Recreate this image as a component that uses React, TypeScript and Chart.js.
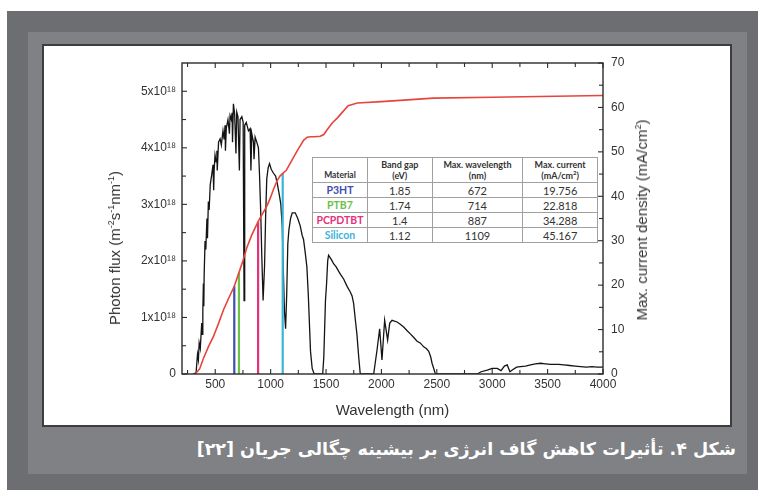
import React, { useEffect, useRef } from "react";
import { Chart, registerables } from "chart.js";

Chart.register(...registerables);

// ---------- data ----------
// AM1.5 photon flux, in units of 1e18 m^-2 s^-1 nm^-1
const SPECTRUM_WAVELENGTH = [
  300, 327, 340, 348, 355, 365, 378, 383, 388, 393,
  397, 400, 408, 415, 425, 430, 438, 445, 455, 468,
  480, 486, 490, 498, 508, 515, 518, 530, 544, 555,
  570, 580, 589, 592, 600, 615, 628, 634, 645, 652,
  656, 664, 675, 687, 694, 705, 718, 724, 740, 752,
  760, 766, 780, 800, 815, 822, 830, 845, 850, 860,
  875, 890, 900, 910, 920, 932, 945, 955, 965, 978,
  990, 1005, 1026, 1045, 1062, 1080, 1092, 1105, 1115, 1125,
  1135, 1145, 1155, 1165, 1180, 1195, 1222, 1245, 1267, 1285,
  1297, 1312, 1327, 1340, 1350, 1360, 1375, 1393, 1470, 1480,
  1495, 1505, 1515, 1523, 1540, 1555, 1568, 1590, 1613, 1635,
  1659, 1690, 1719, 1735, 1749, 1765, 1779, 1795, 1809, 1930,
  1960, 1984, 2005, 2029, 2056, 2075, 2096, 2141, 2170, 2201,
  2230, 2261, 2290, 2322, 2350, 2382, 2405, 2427, 2445, 2457,
  2475, 2487, 2864, 2900, 2955, 3000, 3045, 3080, 3110, 3135,
  3160, 3181, 3220, 3256, 3300, 3346, 3390, 3437, 3480, 3527,
  3600, 3648, 3700, 3750, 3799, 3850, 3900, 3949, 4000,
];
const SPECTRUM_FLUX = [
  0, 0.02, 0.35, 0.25, 0.55, 0.45, 0.9, 0.7, 1.1, 1.6,
  1.2, 1.75, 2.35, 2.2, 2.75, 2.4, 3.05, 2.9, 3.35, 3.52,
  3.7, 3.25, 3.6, 3.87, 3.75, 3.95, 3.6, 4.1, 4.16, 4.05,
  4.3, 4.15, 4.4, 3.95, 4.35, 4.5, 4.25, 4.57, 4.5, 4.62,
  4.1, 4.78, 4.6, 3.9, 4.63, 4.55, 3.6, 4.5, 4.55, 4.45,
  1.3, 4.4, 4.45, 4.3, 4.34, 3.6, 4.25, 4.1, 3.8, 4.19,
  4.1, 4.0, 3.5, 2.9, 2.1, 1.3, 1.9, 2.8, 3.45, 3.65,
  3.72, 3.62, 3.55, 3.5, 3.35, 3.15, 3.0, 2.6, 1.8, 1.1,
  0.8, 1.4, 2.3, 2.55, 2.75, 2.85, 2.85, 2.75, 2.62, 2.45,
  2.38, 2.15, 1.9, 1.4, 0.9, 0.4, 0.1, 0, 0, 0.3,
  1.3, 1.6, 2.0, 2.1, 2.05, 2.0, 1.95, 1.9, 1.82, 1.75,
  1.68, 1.55, 1.45, 1.38, 1.25, 0.95, 0.7, 0.3, 0, 0,
  0.42, 0.8, 0.25, 0.95, 0.6, 0.9, 0.95, 0.92, 0.88, 0.83,
  0.77, 0.71, 0.65, 0.58, 0.55, 0.48, 0.45, 0.4, 0.3, 0.19,
  0.08, 0, 0, 0.04, 0.07, 0.1, 0.1, 0.06, 0.14, 0.16,
  0.04, 0.07, 0.12, 0.13, 0.14, 0.16, 0.18, 0.19, 0.18, 0.17,
  0.17, 0.16, 0.15, 0.14, 0.13, 0.12, 0.13, 0.12, 0.12,
];

// cumulative maximum current density, mA/cm^2
const CURRENT_WAVELENGTH = [
  320, 360, 393, 440, 483, 530, 574, 620, 672, 714, 750, 785, 830, 887, 930, 966, 1000, 1026, 1060, 1086,
  1109, 1140, 1176, 1237, 1297, 1330, 1360, 1400, 1448, 1480, 1508, 1560, 1601, 1650, 1700, 1782, 2000, 2470, 3000, 4000,
];
const CURRENT_DENSITY = [
  0, 1.2, 3.5, 6.2, 8.4, 11.4, 14.4, 17.0, 19.756, 22.818, 25.5, 28.4, 31.3, 34.288, 36.2, 37.8, 39.8, 41.6, 43.6, 44.6,
  45.167, 45.8, 47.4, 50.1, 52.6, 53.3, 53.4, 53.4, 53.5, 53.9, 54.9, 56.6, 57.6, 59.0, 60.4, 61.0, 61.3, 62.1, 62.3, 62.7,
];

const MATERIALS = ["P3HT", "PTB7", "PCPDTBT", "Silicon"];
const BAND_GAPS = ["1.85", "1.74", "1.4", "1.12"];
const MAX_WAVELENGTHS = [672, 714, 887, 1109];
const MAX_CURRENTS = [19.756, 22.818, 34.288, 45.167];

const X_TICKS = [500, 1000, 1500, 2000, 2500, 3000, 3500, 4000];
const X_MINOR_TICKS = [250, 750, 1250, 1750, 2250, 2750, 3250, 3750];
const FLUX_TICKS = [0, 1, 2, 3, 4, 5];
const FLUX_MINOR_TICKS = [0.5, 1.5, 2.5, 3.5, 4.5];
const CURRENT_TICKS = [0, 10, 20, 30, 40, 50, 60, 70];
const CURRENT_MINOR_TICKS = [5, 15, 25, 35, 45, 55, 65];

const CAPTION = "شکل ۴. تأثیرات کاهش گاف انرژی بر بیشینه چگالی جریان [۲۲]";

// ---------- styles ----------
const MATERIAL_COLORS = ["#3f4db0", "#6cc04a", "#e6317b", "#3cb2da"];
const AXIS_FONT = "'Liberation Sans', Arial, sans-serif";
const TEXT_COLOR = "#333";

const framePlugin = {
  id: "frameTicks",
  afterDatasetsDraw(chart: any) {
    const { ctx, chartArea: a, scales } = chart;
    ctx.save();
    ctx.strokeStyle = "#2b2b2b";
    ctx.lineWidth = 1.4;
    ctx.strokeRect(a.left, a.top, a.right - a.left, a.bottom - a.top);
    ctx.lineWidth = 1.1;
    const seg = (x1: number, y1: number, x2: number, y2: number) => {
      ctx.beginPath();
      ctx.moveTo(x1, y1);
      ctx.lineTo(x2, y2);
      ctx.stroke();
    };
    const xt = (vals: number[], len: number) =>
      vals.forEach((v) => {
        const x = scales.x.getPixelForValue(v);
        seg(x, a.bottom, x, a.bottom - len);
        seg(x, a.top, x, a.top + len);
      });
    xt(X_TICKS, 5);
    xt(X_MINOR_TICKS, 4);
    const yl = (vals: number[], len: number) =>
      vals.forEach((v) => {
        const y = scales.yFlux.getPixelForValue(v);
        seg(a.left, y, a.left + len, y);
      });
    yl(FLUX_TICKS, 5);
    yl(FLUX_MINOR_TICKS, 4);
    const yr = (vals: number[], len: number) =>
      vals.forEach((v) => {
        const y = scales.yCurrent.getPixelForValue(v);
        seg(a.right, y, a.right - len, y);
      });
    yr(CURRENT_TICKS, 5);
    yr(CURRENT_MINOR_TICKS, 4);
    ctx.restore();
  },
};

function SpectrumChart() {
  const ref = useRef<HTMLCanvasElement | null>(null);
  useEffect(() => {
    if (!ref.current) return;
    const verticals = MATERIALS.map((m, i) => ({
      label: m,
      data: [
        { x: MAX_WAVELENGTHS[i], y: 0 },
        { x: MAX_WAVELENGTHS[i], y: MAX_CURRENTS[i] },
      ],
      yAxisID: "yCurrent",
      borderColor: MATERIAL_COLORS[i],
      borderWidth: 2.2,
      pointRadius: 0,
      order: 1,
    }));
    const chart = new Chart(ref.current, {
      type: "line",
      data: {
        datasets: [
          ...verticals,
          {
            label: "Max. current density",
            data: CURRENT_WAVELENGTH.map((x, i) => ({ x, y: CURRENT_DENSITY[i] })),
            yAxisID: "yCurrent",
            borderColor: "#e8443c",
            borderWidth: 1.6,
            pointRadius: 0,
            order: 0,
          },
          {
            label: "Photon flux",
            data: SPECTRUM_WAVELENGTH.map((x, i) => ({ x, y: SPECTRUM_FLUX[i] })),
            yAxisID: "yFlux",
            borderColor: "#141414",
            borderWidth: 1.3,
            pointRadius: 0,
            order: 5,
          },
        ] as any,
      },
      options: {
        animation: false,
        responsive: false,
        maintainAspectRatio: false,
        layout: { padding: { top: 17, left: 0, right: 0, bottom: 0 } },
        plugins: { legend: { display: false }, tooltip: { enabled: false } },
        elements: { line: { tension: 0 } },
        scales: {
          x: {
            type: "linear",
            position: "bottom",
            min: 200,
            max: 4000,
            grid: { display: false, drawTicks: false },
            border: { display: false },
            afterBuildTicks: (s: any) => {
              s.ticks = X_TICKS.map((v) => ({ value: v }));
            },
            afterFit: (s: any) => {
              s.height = 51;
            },
            ticks: {
              padding: 3,
              color: TEXT_COLOR,
              font: { family: AXIS_FONT, size: 12 },
              maxRotation: 0,
              autoSkip: false,
              callback: (v: any) => String(v),
            },
            title: {
              display: true,
              text: "Wavelength (nm)",
              color: TEXT_COLOR,
              font: { family: AXIS_FONT, size: 15 },
              padding: { top: 0, bottom: 5 },
            },
          },
          yFlux: {
            type: "linear",
            position: "left",
            min: 0,
            max: 5.5,
            grid: { display: false, drawTicks: false },
            border: { display: false },
            afterBuildTicks: (s: any) => {
              s.ticks = FLUX_TICKS.map((v) => ({ value: v }));
            },
            afterFit: (s: any) => {
              s.width = 138;
            },
            ticks: {
              padding: 6,
              color: TEXT_COLOR,
              font: { family: AXIS_FONT, size: 12 },
              callback: (v: any) => (v === 0 ? "0" : `${v}x10¹⁸`),
            },
          },
          yCurrent: {
            type: "linear",
            position: "right",
            min: 0,
            max: 70,
            grid: { display: false, drawTicks: false },
            border: { display: false },
            afterBuildTicks: (s: any) => {
              s.ticks = CURRENT_TICKS.map((v) => ({ value: v }));
            },
            afterFit: (s: any) => {
              s.width = 127;
            },
            ticks: {
              padding: 8,
              color: TEXT_COLOR,
              font: { family: AXIS_FONT, size: 12 },
              callback: (v: any) => String(v),
            },
          },
        },
      } as any,
      plugins: [framePlugin],
    });
    return () => chart.destroy();
  }, []);
  return (
    <canvas
      ref={ref}
      width={686}
      height={379}
      style={{ position: "absolute", left: 44, top: 46, width: 686, height: 379 }}
    />
  );
}

const cell: React.CSSProperties = {
  border: "1px solid #a0a0a0",
  textAlign: "center",
  padding: 0,
  lineHeight: "13px",
};

function MaterialTable() {
  return (
    <table
      style={{
        position: "absolute",
        left: 312,
        top: 157,
        width: 286,
        borderCollapse: "collapse",
        background: "#fff",
        fontFamily: "Lato, 'Open Sans', sans-serif",
        color: "#333",
        border: "1px solid #8a8a8a",
      }}
    >
      <colgroup>
        <col style={{ width: 55 }} />
        <col style={{ width: 65 }} />
        <col style={{ width: 91 }} />
        <col style={{ width: 75 }} />
      </colgroup>
      <thead>
        <tr style={{ height: 25, fontSize: 9, fontWeight: 700 }}>
          <th style={{ ...cell, verticalAlign: "bottom", paddingBottom: 2, lineHeight: "10px", fontSize: 8.5 }}>Material</th>
          <th style={{ ...cell, lineHeight: "11px" }}>
            Band gap
            <br />
            (eV)
          </th>
          <th style={{ ...cell, lineHeight: "11px" }}>
            Max. wavelength
            <br />
            (nm)
          </th>
          <th style={{ ...cell, lineHeight: "11px" }}>
            Max. current
            <br />
            (mA/cm<sup style={{ fontSize: 6, lineHeight: 0 }}>2</sup>)
          </th>
        </tr>
      </thead>
      <tbody>
        {MATERIALS.map((m, i) => (
          <tr key={m} style={{ height: 15, fontSize: 11 }}>
            <td style={{ ...cell, color: MATERIAL_COLORS[i], fontWeight: 700, fontSize: 10.5 }}>{m}</td>
            <td style={cell}>{BAND_GAPS[i]}</td>
            <td style={cell}>{MAX_WAVELENGTHS[i]}</td>
            <td style={cell}>{MAX_CURRENTS[i].toFixed(3)}</td>
          </tr>
        ))}
      </tbody>
    </table>
  );
}

export default function App() {
  const vTitle: React.CSSProperties = {
    position: "absolute",
    transform: "translate(-50%, -50%) rotate(-90deg)",
    whiteSpace: "nowrap",
    fontFamily: AXIS_FONT,
    fontSize: 15,
    color: TEXT_COLOR,
    lineHeight: "18px",
  };
  const sup: React.CSSProperties = { fontSize: 9, verticalAlign: "6px", lineHeight: 0 };
  return (
    <div
      style={{
        position: "fixed",
        left: 0,
        top: 0,
        width: 758,
        height: 490,
        background: "#fff",
        overflow: "hidden",
      }}
    >
      <div style={{ position: "absolute", left: 7, top: 11, width: 751, height: 479, background: "#6d6e72" }} />
      <div style={{ position: "absolute", left: 28, top: 32, width: 719, height: 442, background: "#808185" }} />
      <div
        style={{
          position: "absolute",
          left: 42,
          top: 44,
          width: 690,
          height: 383,
          boxSizing: "border-box",
          background: "#fff",
          border: "2px solid #3d3d3f",
        }}
      />
      <SpectrumChart />
      <div style={{ ...vTitle, left: 115, top: 248 }}>
        Photon flux (m<span style={sup}>-2</span>s<span style={sup}>-1</span>nm<span style={sup}>-1</span>)
      </div>
      <div style={{ ...vTitle, left: 642, top: 220 }}>
        Max. current density (mA/cm<span style={sup}>2</span>)
      </div>
      <MaterialTable />
      <div
        dir="rtl"
        style={{
          position: "absolute",
          right: 22,
          top: 436,
          whiteSpace: "nowrap",
          fontFamily: "'DejaVu Sans', sans-serif",
          fontWeight: 700,
          fontSize: 17.5,
          color: "#fff",
          lineHeight: "26px",
        }}
      >
        {CAPTION}
      </div>
    </div>
  );
}
